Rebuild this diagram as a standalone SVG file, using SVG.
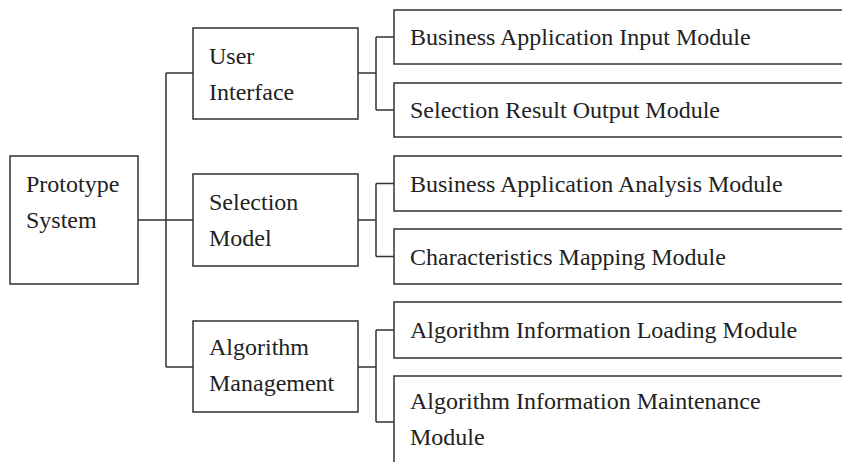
<svg xmlns="http://www.w3.org/2000/svg" width="842" height="462" viewBox="0 0 842 462">
<style>
.box{fill:#fff;stroke:#333;stroke-width:1.5}
.ln{fill:none;stroke:#333;stroke-width:1.5}
text{font-family:"Liberation Serif","Times New Roman",serif;font-size:24px;fill:#222}
</style>
<rect width="842" height="462" fill="#fff"/>
<g id="connectors">
<path class="ln" d="M138 220H193M166 73V367M166 73H193M166 367H193"/>
<path class="ln" d="M358 73H376M376 37V110M376 37H394M376 110H394"/>
<path class="ln" d="M358 220H376M376 183.5V256.5M376 183.5H394M376 256.5H394"/>
<path class="ln" d="M358 367H376M376 330V422M376 330H394M376 422H394"/>
</g>
<g id="root"><rect class="box" x="10" y="156" width="128" height="128"/><text x="26" y="192">Prototype</text><text x="26" y="228">System</text></g>
<g id="ui"><rect class="box" x="193" y="28" width="165" height="91"/><text x="209" y="64">User</text><text x="209" y="100">Interface</text></g>
<g id="sel"><rect class="box" x="193" y="174" width="165" height="92"/><text x="209" y="210">Selection</text><text x="209" y="246">Model</text></g>
<g id="alg"><rect class="box" x="193" y="321" width="165" height="91"/><text x="209" y="355">Algorithm</text><text x="209" y="391">Management</text></g>
<g id="leaf1"><rect class="box" x="394" y="10" width="470" height="54"/><text x="410" y="45">Business Application Input Module</text></g>
<g id="leaf2"><rect class="box" x="394" y="83" width="470" height="54"/><text x="410" y="118">Selection Result Output Module</text></g>
<g id="leaf3"><rect class="box" x="394" y="156" width="470" height="55"/><text x="410" y="192">Business Application Analysis Module</text></g>
<g id="leaf4"><rect class="box" x="394" y="229" width="470" height="55"/><text x="410" y="265">Characteristics Mapping Module</text></g>
<g id="leaf5"><rect class="box" x="394" y="302" width="470" height="56"/><text x="410" y="338">Algorithm Information Loading Module</text></g>
<g id="leaf6"><rect class="box" x="394" y="376" width="470" height="100"/><text x="410" y="409">Algorithm Information Maintenance</text><text x="410" y="445">Module</text></g>
</svg>
